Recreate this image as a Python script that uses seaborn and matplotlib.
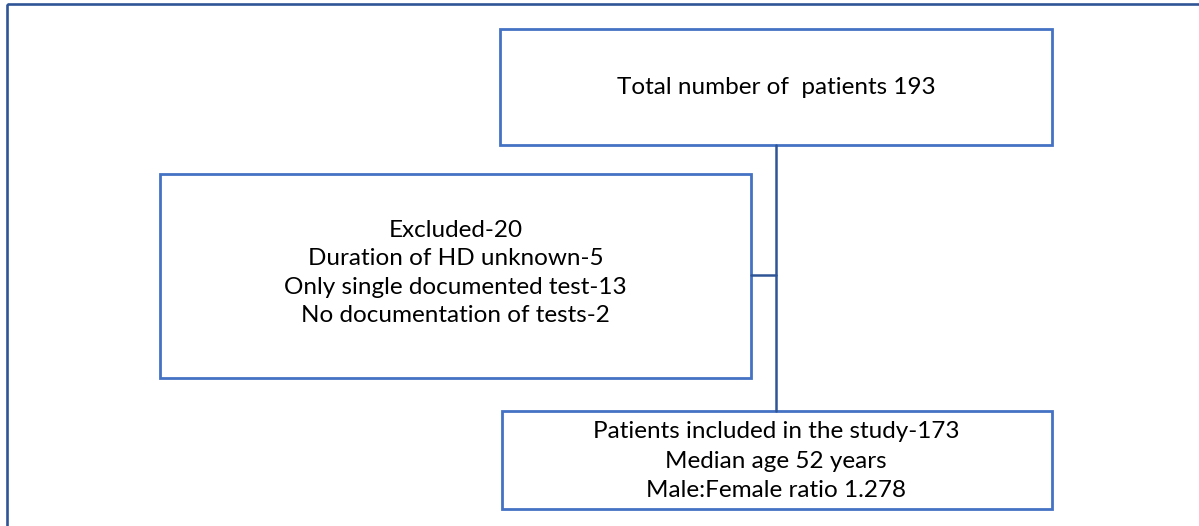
import matplotlib
matplotlib.use("Agg")
import matplotlib.pyplot as plt
from matplotlib.patches import Rectangle
import seaborn as sns
import pandas as pd

# ---- data (flowchart contents) ----
top_text = ["Total number of  patients 193"]
excluded_text = [
    "Excluded-20",
    "Duration of HD unknown-5",
    "Only single documented test-13",
    "No documentation of tests-2",
]
included_text = [
    "Patients included in the study-173",
    "Median age 52 years",
    "Male:Female ratio 1.278",
]

sns.set_theme(style="white")
plt.rcParams['font.family'] = ['Lato', 'DejaVu Sans']

W, H = 1199, 526
fig = plt.figure(figsize=(W / 100, H / 100), dpi=100)
ax = fig.add_axes([0, 0, 1, 1])
ax.set_xlim(0, W)
ax.set_ylim(H, 0)
ax.axis("off")

box_col = "#4472C4"
line_col = "#2F5597"
frame_col = "#2F5597"

# outer frame
ax.add_patch(Rectangle((7, 4), 1300, 600, fill=False, edgecolor=frame_col, lw=1.9))

# boxes: (x0, y0, x1, y1)
boxes = {
    "top": (500, 29, 1052, 145),
    "excl": (160, 174, 751, 378),
    "incl": (502, 411, 1052, 509),
}
for (x0, y0, x1, y1) in boxes.values():
    ax.add_patch(Rectangle((x0, y0), x1 - x0, y1 - y0, fill=False,
                           edgecolor=box_col, lw=2.0))

# connectors
conn = pd.DataFrame({
    "x": [776, 776, 751, 776],
    "y": [145, 411, 275, 275],
    "seg": ["v", "v", "h", "h"],
})
for seg, d in conn.groupby("seg"):
    sns.lineplot(data=d, x="x", y="y", ax=ax, color=line_col, lw=1.8,
                 estimator=None, sort=False)
ax.set_xlim(0, W)
ax.set_ylim(H, 0)
ax.axis("off")

fs = 17.5
tc = "#000000"
ax.text(776, 88, "\n".join(top_text), ha="center", va="center",
        fontsize=fs, color=tc)
ax.text(455.5, 273, "\n".join(excluded_text), ha="center", va="center",
        fontsize=fs, color=tc, linespacing=1.45)
ax.text(776, 461, "\n".join(included_text), ha="center", va="center",
        fontsize=fs, color=tc, linespacing=1.5)

fig.savefig("out.png", dpi=100)
